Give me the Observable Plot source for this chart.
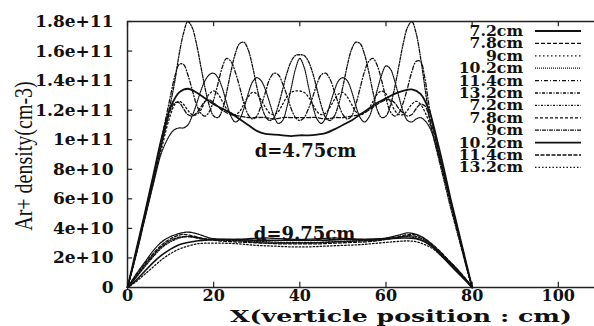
<!DOCTYPE html>
<html><head><meta charset="utf-8">
<script src="https://cdn.jsdelivr.net/npm/d3@7"></script>
<script src="https://cdn.jsdelivr.net/npm/@observablehq/plot@0.6"></script>
<style>body{margin:0;background:#fff}svg{display:block}</style>
</head><body>
<div id="chart"></div>
<script>
// values in units of 1e10 cm-3
const xTicks = [0, 20, 40, 60, 80, 100];
const yTicks = [0, 2, 4, 6, 8, 10, 12, 14, 16, 18];
const yTickLabels = ["0","2e+10","4e+10","6e+10","8e+10","1e+11","1.2e+11","1.4e+11","1.6e+11","1.8e+11"];
const legendLabels = ["7.2cm","7.8cm","9cm","10.2cm","11.4cm","13.2cm","7.2cm","7.8cm","9cm","10.2cm","11.4cm","13.2cm"];
const annotations = ["d=4.75cm", "d=9.75cm"];

// d = 4.75 cm group
const u72 = [[0,0],[2,2.5],[4,5],[6,7.6],[8,10.2],[10,12.2],[12,13.2],[14,13.45],[16,13.2],[18,12.8],[20,12.4],[22,12.1],[24,11.8],[26,11.4],[28,11],[30,10.6],[32,10.4],[34,10.35],[36,10.3],[38,10.25],[40,10.3],[42,10.3],[44,10.35],[46,10.45],[48,10.7],[50,11],[52,11.3],[54,11.7],[56,12.1],[58,12.5],[60,12.8],[62,13.1],[64,13.3],[66,13.4],[68,13.1],[70,12],[71,11],[72,9.8],[73,8.6],[74,7.3],[75,6],[76,4.8],[77,3.6],[78,2.4],[79,1.2],[80,0]];
const u78 = [[0,0],[2,2.3],[4,4.8],[6,7.3],[8,9.8],[9,11],[10,12],[11,12.5],[12,12.5],[13,12.1],[14,11.7],[15,11.6],[16,11.8],[17,12.2],[18,12.6],[19,12.7],[20,12.5],[22,12],[24,11.7],[26,11.6],[28,11.5],[30,11.5],[32,11.5],[34,11.4],[36,11.5],[38,11.5],[40,11.5],[42,11.5],[44,11.5],[46,11.4],[48,11.5],[50,11.5],[52,11.6],[54,11.7],[56,12],[58,12.4],[60,12.7],[61,12.7],[62,12.5],[63,12.1],[64,11.8],[65,11.6],[66,11.7],[67,12.1],[68,12.4],[69,12.3],[70,11.6],[71,10.6],[72,9.4],[73,8.2],[74,7],[75,5.8],[76,4.6],[77,3.5],[78,2.3],[79,1.1],[80,0]];
const u90 = [[0,0],[2,2.3],[4,4.7],[6,7.1],[8,9.5],[9,10.7],[10,11.7],[11,12.4],[12,12.6],[13,12.4],[14,12],[15,11.7],[16,11.7],[17,12],[18,12.6],[19,13.1],[20,13.3],[21,13.1],[22,12.6],[23,12.1],[24,11.8],[25,11.7],[26,11.9],[27,12.4],[28,12.9],[29,13.2],[30,13.1],[31,12.7],[32,12.2],[33,11.8],[34,11.7],[35,11.9],[36,12.4],[37,12.9],[38,13.2],[39,13.3],[40,13.3],[41,13.2],[42,12.9],[43,12.4],[44,11.9],[45,11.7],[46,11.8],[47,12.2],[48,12.7],[49,13.1],[50,13.2],[51,12.9],[52,12.4],[53,11.9],[54,11.7],[55,11.8],[56,12.1],[57,12.6],[58,13.1],[59,13.3],[60,13.1],[61,12.6],[62,12],[63,11.7],[64,11.7],[65,12],[66,12.4],[67,12.6],[68,12.4],[69,11.9],[70,11.2],[71,10.3],[72,9.2],[73,8.1],[74,6.9],[75,5.7],[76,4.6],[77,3.4],[78,2.3],[79,1.1],[80,0]];
const u102 = [[0,0],[2,2.2],[4,4.6],[6,7],[8,9.2],[10,10.4],[11,10.7],[12,10.8],[13,10.8],[14,11],[15,11.6],[16,12.4],[17,13.3],[18,14],[19,14.4],[20,14.5],[21,14.2],[22,13.5],[23,12.5],[24,11.6],[25,11.2],[26,11.4],[27,12.1],[28,13.1],[29,13.9],[30,14.2],[31,14],[32,13.4],[33,12.5],[34,11.6],[35,11.1],[36,11.3],[37,12.2],[38,13.5],[39,14.8],[40,15.5],[41,14.9],[42,13.6],[43,12.3],[44,11.4],[45,11.1],[46,11.5],[47,12.4],[48,13.3],[49,14],[50,14.2],[51,14],[52,13.3],[53,12.3],[54,11.5],[55,11.2],[56,11.5],[57,12.3],[58,13.4],[59,14.4],[60,15],[61,14.8],[62,14],[63,12.9],[64,11.9],[65,11.3],[66,11.2],[67,11.4],[68,11.5],[69,11.3],[70,10.9],[71,10.2],[72,9.2],[73,8.1],[74,6.9],[75,5.7],[76,4.5],[77,3.4],[78,2.2],[79,1.1],[80,0]];
const u114 = [[0,0],[2,2.4],[4,4.9],[6,7.5],[8,10.2],[9,11.6],[10,13],[11,14.3],[12,15.1],[13,15.1],[14,14.4],[15,13.4],[16,12.4],[17,11.8],[18,11.6],[19,11.9],[20,12.7],[21,13.8],[22,14.9],[23,15.5],[24,15.3],[25,14.6],[26,13.6],[27,12.5],[28,11.7],[29,11.4],[30,11.6],[31,12.3],[32,13.2],[33,14.1],[34,14.5],[35,14.4],[36,13.8],[37,13],[38,12.1],[39,11.5],[40,11.3],[41,11.5],[42,12.1],[43,12.9],[44,13.8],[45,14.4],[46,14.5],[47,14.1],[48,13.3],[49,12.4],[50,11.7],[51,11.4],[52,11.6],[53,12.4],[54,13.5],[55,14.6],[56,15.3],[57,15.5],[58,15],[59,14],[60,12.8],[61,11.9],[62,11.6],[63,11.8],[64,12.5],[65,13.5],[66,14.6],[67,15.3],[68,15.3],[69,14.2],[70,12.3],[71,10.8],[72,9.5],[73,8.3],[74,7.1],[75,5.9],[76,4.7],[77,3.5],[78,2.3],[79,1.1],[80,0]];
const u132 = [[0,0],[2,2.2],[4,4.7],[6,7.2],[8,9.8],[10,12.5],[11,14],[12,15.8],[13,17.2],[14,18],[15,17.6],[16,16.5],[17,15],[18,13.5],[19,12.3],[20,11.6],[21,11.5],[22,12],[23,13.2],[24,14.6],[25,15.8],[26,16.5],[27,16.6],[28,16.1],[29,15],[30,13.6],[31,12.4],[32,11.6],[33,11.3],[34,11.5],[35,12.3],[36,13.4],[37,14.5],[38,15.3],[39,15.7],[40,15.75],[41,15.7],[42,15.3],[43,14.5],[44,13.4],[45,12.3],[46,11.5],[47,11.3],[48,11.6],[49,12.4],[50,13.6],[51,15],[52,16.1],[53,16.6],[54,16.5],[55,15.8],[56,14.6],[57,13.2],[58,12],[59,11.5],[60,11.6],[61,12.3],[62,13.5],[63,15],[64,16.5],[65,17.6],[66,18],[67,17.2],[68,15.6],[69,13.6],[70,11.6],[71,10.2],[72,9],[73,7.8],[74,6.6],[75,5.4],[76,4.3],[77,3.2],[78,2.1],[79,1],[80,0]];

// d = 9.75 cm group
const l72 = [[0,0],[2,0.7],[4,1.4],[6,2.1],[8,2.7],[10,3.1],[12,3.35],[14,3.45],[16,3.4],[18,3.3],[20,3.25],[24,3.2],[28,3.15],[32,3.1],[36,3.05],[40,3.05],[44,3.05],[48,3.1],[52,3.15],[56,3.2],[60,3.3],[63,3.4],[65,3.45],[67,3.35],[69,3.1],[71,2.7],[73,2.2],[75,1.6],[77,1],[79,0.4],[80,0]];
const l78 = [[0,0],[2,0.8],[4,1.6],[6,2.3],[8,2.9],[10,3.3],[12,3.55],[13,3.6],[15,3.5],[17,3.35],[20,3.2],[24,3.1],[28,3.05],[32,3],[36,2.95],[40,2.95],[44,2.95],[48,3],[52,3.05],[56,3.1],[60,3.25],[63,3.45],[66,3.6],[68,3.45],[70,3.1],[72,2.6],[74,2],[76,1.4],[78,0.7],[80,0]];
const l90 = [[0,0],[2,0.9],[4,1.7],[6,2.5],[8,3.1],[10,3.45],[12,3.65],[14,3.75],[16,3.65],[18,3.45],[20,3.3],[24,3.25],[28,3.3],[32,3.35],[36,3.3],[40,3.25],[44,3.3],[48,3.35],[52,3.3],[56,3.25],[60,3.35],[63,3.55],[65,3.7],[67,3.6],[69,3.3],[71,2.8],[73,2.2],[75,1.6],[77,1],[79,0.35],[80,0]];
const l102 = [[0,0],[2,0.5],[4,1.1],[6,1.7],[8,2.2],[10,2.6],[12,2.9],[14,3.05],[16,3.15],[18,3.2],[20,3.25],[25,3.25],[30,3.2],[35,3.2],[40,3.2],[45,3.2],[50,3.25],[55,3.25],[60,3.3],[64,3.35],[67,3.3],[69,3.1],[71,2.7],[73,2.1],[75,1.5],[77,0.9],[79,0.3],[80,0]];
const l114 = [[0,0],[2,0.7],[4,1.5],[6,2.2],[8,2.8],[10,3.2],[12,3.4],[14,3.45],[16,3.35],[18,3.25],[22,3.2],[26,3.15],[30,3.05],[34,3],[38,3],[42,3],[46,3.05],[50,3.1],[54,3.15],[58,3.2],[62,3.35],[65,3.5],[67,3.45],[69,3.2],[71,2.8],[73,2.3],[75,1.7],[77,1.1],[79,0.4],[80,0]];
const l132 = [[0,0],[2,0.4],[4,0.9],[6,1.4],[8,1.9],[10,2.3],[12,2.6],[14,2.8],[16,2.95],[18,3],[22,3],[26,2.95],[30,2.85],[34,2.8],[38,2.75],[42,2.75],[46,2.8],[50,2.85],[54,2.9],[58,3],[62,3.1],[65,3.15],[67,3.1],[69,2.9],[71,2.6],[73,2.1],[75,1.6],[77,1],[79,0.4],[80,0]];

const seriesData = [u72, u78, u90, u102, u114, u132, l72, l78, l90, l102, l114, l132];
const dashes = [null, "4,2", "1.5,2.5", "1,1", "4,2,1,2", "3,1.5,1,1.5", "2,1.5,1,1.5", "3,2", "4,1,1,1", null, "4,1.5", "1.5,2"];
const widths = [1.8, 1.3, 1.3, 1.2, 1.3, 1.3, 1.3, 1.3, 1.3, 1.6, 1.3, 1.3];

const serif = "'DejaVu Serif', serif";

const lines = seriesData.map((pts, i) => Plot.line(pts, {
  x: d => d[0], y: d => d[1], stroke: "#111", strokeWidth: widths[i],
  strokeDasharray: dashes[i] || undefined, curve: "catmull-rom"
}));

const plot = Plot.plot({
  width: 594, height: 326,
  marginLeft: 127, marginRight: 0, marginTop: 21, marginBottom: 39,
  x: {domain: [0, 108.4]},
  y: {domain: [0, 18]},
  style: {fontFamily: serif, background: "#fff", color: "#111", overflow: "visible"},
  marks: [
    Plot.axisY({ticks: yTicks, tickFormat: (d) => yTickLabels[yTicks.indexOf(d)], tickSize: 0, tickPadding: 14, fontSize: 17, fontWeight: "bold", label: null}),
    Plot.axisX({ticks: xTicks, tickSize: 0, tickPadding: 2, fontSize: 16, fontWeight: "bold", label: null}),
    Plot.ruleY(yTicks, {x1: 0, x2: 1.2, stroke: "#222", strokeWidth: 1.2}),
    Plot.ruleX(xTicks, {y1: 0, y2: 0.35, stroke: "#222", strokeWidth: 1.2}),
    Plot.ruleX(xTicks, {y1: 18, y2: 17.65, stroke: "#222", strokeWidth: 1.2}),
    Plot.ruleX([0], {stroke: "#222", strokeWidth: 1.5}),
    Plot.ruleY([0, 18], {stroke: "#222", strokeWidth: 1.5}),
    ...lines,
    Plot.text([annotations[0]], {x: 41.3, y: 9.2, text: d => d, fontSize: 18, fontWeight: "bold", fill: "#111"}),
    Plot.text([annotations[1]], {x: 41.1, y: 3.6, text: d => d, fontSize: 18, fontWeight: "bold", fill: "#111"})
  ]
});

const svg = d3.select(plot);
// axis titles
svg.append("text")
  .attr("x", 401).attr("y", 322)
  .attr("text-anchor", "middle")
  .attr("font-family", serif).attr("font-weight", "bold").attr("font-size", 16.5)
  .attr("textLength", 342).attr("lengthAdjust", "spacingAndGlyphs")
  .attr("fill", "#111")
  .text("X(verticle position : cm)");
svg.append("text")
  .attr("transform", "translate(32,156) rotate(-90) scale(1,1.3)")
  .attr("text-anchor", "middle")
  .attr("font-family", "'Liberation Serif', serif").attr("font-size", 20)
  .attr("fill", "#111")
  .text("Ar+ density(cm-3)");

// legend
const lg = svg.append("g");
legendLabels.forEach((lab, i) => {
  const y = 31 + i * 12.4;
  lg.append("text").attr("transform", `translate(523,${y}) scale(1.12,1)`).attr("dy", "0.36em")
    .attr("text-anchor", "end").attr("font-family", serif).attr("font-weight", "bold")
    .attr("font-size", 14).attr("fill", "#111").text(lab);
  lg.append("line").attr("x1", 535).attr("x2", 581).attr("y1", y).attr("y2", y)
    .attr("stroke", "#111").attr("stroke-width", widths[i])
    .attr("stroke-dasharray", dashes[i] || null);
});

document.getElementById("chart").appendChild(plot);
</script>
</body></html>
